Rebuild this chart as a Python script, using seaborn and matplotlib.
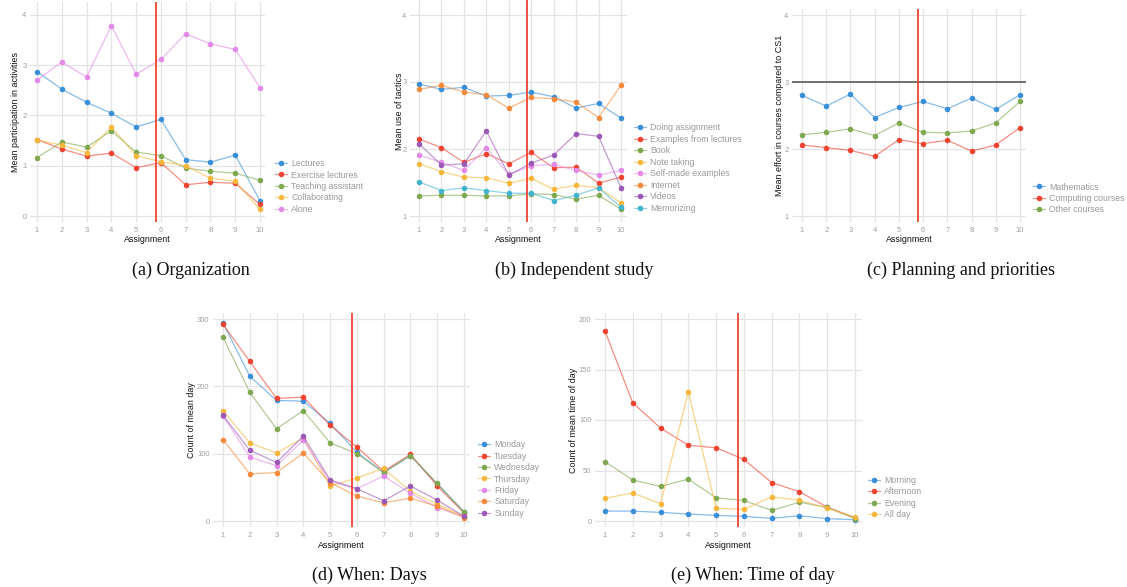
import matplotlib
matplotlib.use('Agg')
import matplotlib.pyplot as plt
from matplotlib.colors import to_rgba
import seaborn as sns
import pandas as pd

# Assignment index on x for every panel
assignments = list(range(1, 11))

# (a) Organization
org_names = ['Lectures', 'Exercise lectures', 'Teaching assistant', 'Collaborating', 'Alone']
org_lectures = [2.87, 2.52, 2.26, 2.04, 1.77, 1.92, 1.12, 1.07, 1.21, 0.30]
org_exercise = [1.52, 1.33, 1.19, 1.25, 0.96, 1.06, 0.62, 0.67, 0.65, 0.23]
org_ta = [1.16, 1.47, 1.37, 1.69, 1.27, 1.20, 0.95, 0.89, 0.85, 0.71]
org_collab = [1.51, 1.41, 1.26, 1.77, 1.20, 1.08, 1.00, 0.75, 0.69, 0.13]
org_alone = [2.70, 3.06, 2.76, 3.78, 2.82, 3.11, 3.62, 3.42, 3.31, 2.55]

# (b) Independent study
study_names = ['Doing assignment', 'Examples from lectures', 'Book', 'Note taking',
               'Self-made examples', 'Internet', 'Videos', 'Memorizing']
study_doing = [2.97, 2.89, 2.92, 2.79, 2.80, 2.85, 2.78, 2.61, 2.68, 2.46]
study_examples = [2.15, 2.02, 1.80, 1.93, 1.78, 1.95, 1.72, 1.73, 1.49, 1.58]
study_book = [1.30, 1.31, 1.31, 1.30, 1.30, 1.33, 1.32, 1.25, 1.31, 1.10]
study_notes = [1.78, 1.66, 1.58, 1.57, 1.49, 1.56, 1.40, 1.46, 1.42, 1.20]
study_selfmade = [1.91, 1.80, 1.68, 2.02, 1.62, 1.75, 1.77, 1.68, 1.61, 1.68]
study_internet = [2.89, 2.95, 2.85, 2.81, 2.61, 2.77, 2.75, 2.70, 2.47, 2.95]
study_videos = [2.08, 1.76, 1.78, 2.27, 1.61, 1.79, 1.91, 2.23, 2.19, 1.42]
study_memo = [1.51, 1.38, 1.42, 1.38, 1.34, 1.34, 1.23, 1.31, 1.42, 1.13]

# (c) Planning and priorities
plan_names = ['Mathematics', 'Computing courses', 'Other courses']
plan_math = [2.80, 2.64, 2.82, 2.47, 2.62, 2.71, 2.60, 2.76, 2.59, 2.81]
plan_computing = [2.06, 2.02, 1.98, 1.89, 2.14, 2.08, 2.13, 1.97, 2.06, 2.32]
plan_other = [2.21, 2.25, 2.30, 2.20, 2.39, 2.25, 2.24, 2.27, 2.39, 2.71]

# (d) When: Days
day_names = ['Monday', 'Tuesday', 'Wednesday', 'Thursday', 'Friday', 'Saturday', 'Sunday']
day_mon = [294, 215, 179, 178, 145, 102, 72, 97, 55, 14]
day_tue = [292, 237, 182, 184, 142, 110, 74, 99, 52, 12]
day_wed = [273, 191, 137, 164, 116, 100, 72, 97, 56, 13]
day_thu = [164, 116, 101, 123, 52, 64, 78, 44, 25, 7]
day_fri = [156, 95, 82, 120, 59, 48, 67, 41, 20, 6]
day_sat = [121, 70, 72, 101, 57, 37, 27, 34, 22, 5]
day_sun = [157, 105, 87, 126, 61, 48, 30, 52, 31, 7]

# (e) When: Time of day
tod_names = ['Morning', 'Afternoon', 'Evening', 'All day']
tod_morning = [9.8, 9.8, 8.5, 6.9, 5.6, 4.6, 2.6, 5.2, 2.3, 1.3]
tod_afternoon = [188, 117, 92, 75, 72.5, 61, 38, 29, 13.7, 3.3]
tod_evening = [58.8, 40.5, 34.3, 41.5, 22.9, 20.3, 10.5, 18.6, 13.4, 2.3]
tod_allday = [22.5, 27.8, 17, 128, 12.7, 11.4, 23.9, 20.6, 12.7, 3.6]

captions = ['(a) Organization', '(b) Independent study', '(c) Planning and priorities',
            '(d) When: Days', '(e) When: Time of day']

blue, red, green, yellow = '#3A8FD9', '#EE4431', '#80A850', '#F5B83D'
pink, orange, purple, cyan = '#E389E8', '#F58A3A', '#9B59B6', '#42B4CF'
cut_color = '#EE4431'

sns.set_theme(style='whitegrid')
plt.rcParams['font.family'] = ['Liberation Sans', 'DejaVu Sans']

W, H = 1127, 587
fig = plt.figure(figsize=(W / 100, H / 100), dpi=100)


def long_df(names, values):
    rows = []
    for name, vals in zip(names, values):
        for a, v in zip(assignments, vals):
            rows.append({'Assignment': a, 'value': v, 'series': name})
    return pd.DataFrame(rows)


def panel(box, xpx, ypts, names, values, colors, yticks, ylabel, ylabel_x,
          xlabel_y, legend_pos, hline=None):
    left, top, right, bottom = box
    ax = fig.add_axes([left / W, 1 - bottom / H, (right - left) / W, (bottom - top) / H])
    df = long_df(names, values)
    sns.lineplot(data=df, x='Assignment', y='value', hue='series', hue_order=names,
                 palette=dict(zip(names, colors)), marker='o', markersize=4,
                 markeredgewidth=0, linewidth=0.9, legend=False, ax=ax)
    lines = ax.lines[:len(names)]
    for ln, c in zip(lines, colors):
        ln.set_color(to_rgba(c, 0.6))
        ln.set_markerfacecolor(c)
        ln.set_markeredgecolor(c)

    # limits from pixel anchors
    x1, x10 = xpx
    ppx = (x10 - x1) / 9
    ax.set_xlim(1 - (x1 - left) / ppx, 10 + (right - x10) / ppx)
    (vt, pt), (vb, pb) = ypts
    ppy = (pb - pt) / (vt - vb)
    ax.set_ylim(vb - (bottom - pb) / ppy, vt + (pt - top) / ppy)

    if hline is not None:
        ax.axhline(hline, color='#666666', lw=1.3, zorder=1)
    ax.axvline(5.8, color=cut_color, lw=1.3, zorder=5)

    ax.set_xticks(assignments)
    ax.set_yticks(yticks)
    ax.grid(True, color='#E4E4E4', lw=0.9)
    ax.tick_params(axis='both', length=0, labelsize=5.5, labelcolor='#A0A0A0')
    ax.tick_params(axis='x', pad=3.5)
    ax.tick_params(axis='y', pad=2.5)
    sns.despine(ax=ax, left=True, bottom=True)

    ax.set_xlabel('Assignment', fontsize=6.4, color='#111111')
    ax.set_ylabel(ylabel, fontsize=6.4, color='#111111')
    ax.xaxis.label.set_va('center')
    ax.yaxis.label.set_va('center')
    ax.xaxis.set_label_coords(0.5, (bottom - xlabel_y) / (bottom - top))
    ax.yaxis.set_label_coords((ylabel_x - left) / (right - left), 0.5)

    lx, ly = legend_pos
    ax.legend(handles=lines, labels=names, loc='center left',
              bbox_to_anchor=(lx / W, 1 - ly / H), bbox_transform=fig.transFigure,
              frameon=False, borderaxespad=0, borderpad=0, handlelength=1.4,
              handletextpad=0.45, labelspacing=0.28, fontsize=6.3, labelcolor='#9A9A9A')
    return ax


panel((30, 2, 265, 222), (37, 260), ((4, 14.7), (0, 216)), org_names,
      [org_lectures, org_exercise, org_ta, org_collab, org_alone],
      [blue, red, green, yellow, pink], [0, 1, 2, 3, 4],
      'Mean participation in activities', 15, 239, (275, 186.5))

panel((410, 0, 627, 222), (419, 621), ((4, 15), (1, 216)), study_names,
      [study_doing, study_examples, study_book, study_notes, study_selfmade,
       study_internet, study_videos, study_memo],
      [blue, red, green, yellow, pink, orange, purple, cyan], [1, 2, 3, 4],
      'Mean use of tactics', 399, 239, (634, 168))

panel((792, 9, 1026, 222), (802, 1020), ((4, 15), (1, 216)), plan_names,
      [plan_math, plan_computing, plan_other],
      [blue, red, green], [1, 2, 3, 4],
      'Mean effort in courses compared to CS1', 779, 239, (1033, 198.5), hline=3)

panel((213, 313, 470, 527), (223, 464), ((300, 319), (0, 521)), day_names,
      [day_mon, day_tue, day_wed, day_thu, day_fri, day_sat, day_sun],
      [blue, red, green, yellow, pink, orange, purple], [0, 100, 200, 300],
      'Count of mean day', 192, 545, (478, 479))

panel((595, 313, 862, 527), (605, 855), ((200, 319), (0, 521)), tod_names,
      [tod_morning, tod_afternoon, tod_evening, tod_allday],
      [blue, red, green, yellow], [0, 50, 100, 150, 200],
      'Count of mean time of day', 574, 545, (868, 497.5))

cap_pos = [(191, 270), (574, 270), (961, 270), (369, 575), (753, 575)]
for text, (cx, cy) in zip(captions, cap_pos):
    fig.text(cx / W, 1 - cy / H, text, ha='center', va='center', fontsize=13,
             family=['Liberation Serif', 'DejaVu Serif'], color='#111111')

fig.savefig('out.png', dpi=100)
